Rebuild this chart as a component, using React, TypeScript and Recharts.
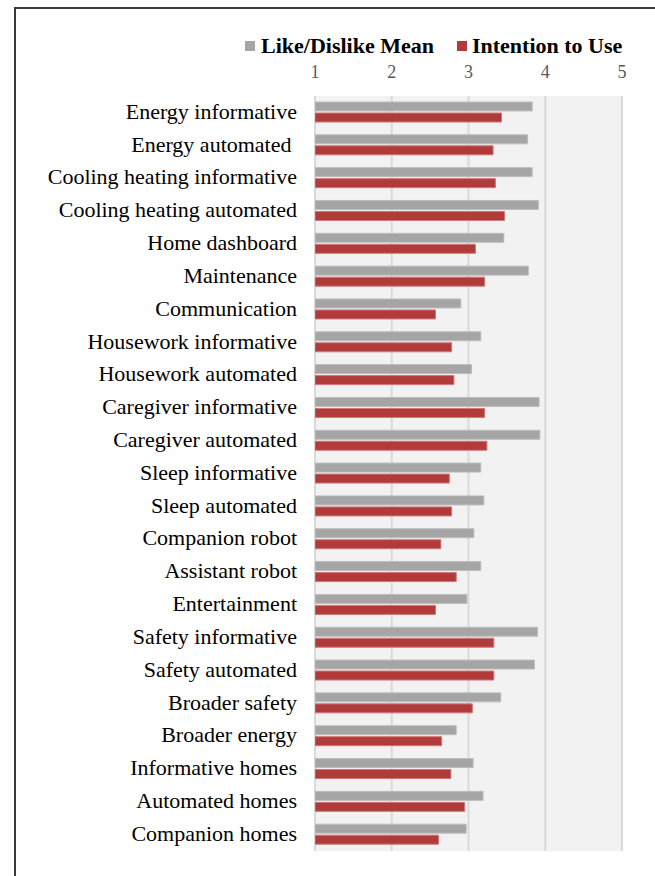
import { BarChart, Bar, XAxis, YAxis, CartesianGrid } from 'recharts'

const categories = [
  'Energy informative',
  'Energy automated\u00a0',
  'Cooling heating informative',
  'Cooling heating automated',
  'Home dashboard',
  'Maintenance',
  'Communication',
  'Housework informative',
  'Housework automated',
  'Caregiver informative',
  'Caregiver automated',
  'Sleep informative',
  'Sleep automated',
  'Companion robot',
  'Assistant robot',
  'Entertainment',
  'Safety informative',
  'Safety automated',
  'Broader safety',
  'Broader energy',
  'Informative homes',
  'Automated homes',
  'Companion homes',
]

const likeMean = [
  3.83, 3.77, 3.83, 3.91, 3.46, 3.78, 2.9, 3.16, 3.04, 3.92, 3.93, 3.16,
  3.2, 3.07, 3.16, 2.98, 3.9, 3.86, 3.42, 2.84, 3.06, 3.19, 2.97,
]

const intention = [
  3.43, 3.32, 3.35, 3.47, 3.09, 3.21, 2.57, 2.78, 2.81, 3.21, 3.24, 2.75,
  2.78, 2.64, 2.84, 2.57, 3.33, 3.33, 3.05, 2.65, 2.77, 2.95, 2.61,
]

const xTicks = [1, 2, 3, 4, 5]

const seriesNames = ['Like/Dislike Mean', 'Intention to Use']
const GRAY = '#a5a5a5'
const RED = '#b13b3a'

const data = categories.map((name, i) => ({
  name,
  like: likeMean[i],
  intent: intention[i],
}))

const font = '"Liberation Serif", "Times New Roman", serif'

export default function App() {
  return (
    <div
      style={{
        position: 'absolute',
        left: 0,
        top: 0,
        width: 655,
        height: 876,
        overflow: 'hidden',
        background: '#fff',
        fontFamily: font,
      }}
    >
      {/* cropped frame */}
      <div
        style={{
          position: 'absolute',
          left: 14,
          top: 7,
          width: 700,
          height: 900,
          borderLeft: '2px solid #3a3a3a',
          borderTop: '2px solid #3a3a3a',
        }}
      />

      {/* legend */}
      <div
        style={{
          position: 'absolute',
          top: 33,
          left: 245,
          display: 'flex',
          alignItems: 'center',
          fontWeight: 'bold',
          fontSize: 22,
          lineHeight: '26px',
          color: '#000',
          whiteSpace: 'nowrap',
        }}
      >
        <span style={{ width: 10, height: 10, background: GRAY, marginRight: 6 }} />
        <span>{seriesNames[0]}</span>
        <span style={{ width: 10, height: 10, background: RED, marginLeft: 23, marginRight: 5 }} />
        <span>{seriesNames[1]}</span>
      </div>

      <BarChart
        width={655}
        height={876}
        data={data}
        layout="vertical"
        margin={{ top: 66, right: 33, bottom: 25, left: 0 }}
        barSize={9}
        barGap={2}
        style={{ position: 'absolute', left: 0, top: 0 }}
      >
        <CartesianGrid
          horizontal={false}
          vertical
          fill="#f2f2f2"
          stroke="#d9d9d9"
          strokeWidth={2}
          verticalValues={xTicks}
        />
        <XAxis
          type="number"
          orientation="top"
          domain={[1, 5]}
          ticks={xTicks}
          allowDataOverflow
          axisLine={false}
          tickLine={false}
          tickSize={0}
          tickMargin={18}
          height={30}
          tick={{ fill: '#595959', fontSize: 18, fontFamily: font }}
        />
        <YAxis
          type="category"
          dataKey="name"
          width={315}
          axisLine={false}
          tickLine={false}
          tickSize={0}
          tickMargin={18}
          interval={0}
          tick={{ fill: '#000', fontSize: 22, fontFamily: font, dy: -1.5 }}
        />
        <Bar
          dataKey="like"
          name={seriesNames[0]}
          fill={GRAY}
          stroke="#bdbdbd"
          strokeWidth={1}
          isAnimationActive={false}
        />
        <Bar
          dataKey="intent"
          name={seriesNames[1]}
          fill={RED}
          stroke="#cf7777"
          strokeWidth={1}
          isAnimationActive={false}
        />
      </BarChart>
    </div>
  )
}
